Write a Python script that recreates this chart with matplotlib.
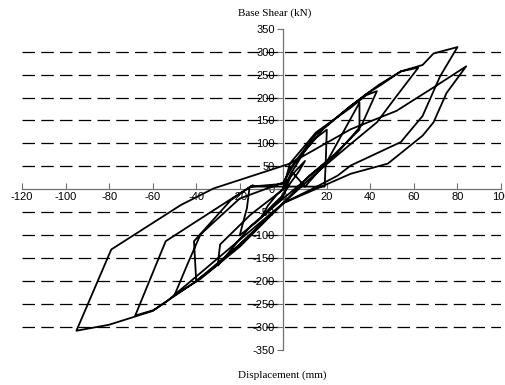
import numpy as np
import matplotlib
matplotlib.use("Agg")
from matplotlib import pyplot as plt

plt.rcParams['axes.unicode_minus'] = False

# hysteresis path, in test order
disp = [0,
        3, 6, 10, 7, 3, 0, -5, -10, -7, -3, 0,
        4, 10, 15, 20, 19.5, 19, 10, -15, -15.5, -16.7, -20, -12, -4, 0, 4, 10,
        20, 27, 35, 35, 23, 10, 0, -15, -30, -29.7, -29, -15, 0,
        3, 15, 31, 38, 43, 36, 25, 12, 0, -20, -33, -40, -41, -24, -15, 0,
        3, 15, 29, 38, 45, 54, 62, 52, 43, 30, 15, 0, -20, -38, -50, -44, -38, -20, 0,
        5, 18, 31, 44, 54, 64, 69, 80, 72, 64, 54, 31, 25, 15, 0, -20, -40, -60, -80, -95,
        -79, -47, -32, 3, 31, 52, 70, 84, 75, 69, 64, 48, 31, 19, 0, -30, -53, -59.5, -68,
        -54, -40, -20, -14]
shear = [0,
         25, 42, 62, 38, 12, -12, -35, -60, -35, -12, 2,
         38, 85, 112, 130, 60, 6, 6, 6, 4, -41, -100, -70, -35, -15, 38, 6,
         60, 120, 189, 130, 74, 20, -20, -80, -166, -148, -120, -55, 0,
         56, 124, 178, 205, 214, 140, 80, 30, -30, -120, -175, -199, -113, -23, 6, 12,
         45, 120, 174, 207, 228, 257, 265, 203, 146, 95, 35, -30, -125, -195, -231, -163, -98, -20, 15,
         55, 130, 182, 228, 257, 271, 296, 310, 246, 160, 103, 52, 30, 5, -30, -120, -200, -265, -295, -308,
         -131, -34, 2, 56, 131, 171, 225, 268, 210, 146, 117, 56, 34, 9, -30, -150, -242, -263, -275,
         -113, -70, -9, 9]

x_ticks = np.arange(-120, 101, 20)
y_ticks = np.arange(-350, 351, 50)
grid_levels = [-300, -250, -200, -150, -100, -50, 50, 100, 150, 200, 250, 300]

fig = plt.figure(figsize=(5.05, 3.85), dpi=100)
ax = fig.add_axes([22/505, 1-350/385, (501-22)/505, (350-28.7)/385])

for g in grid_levels:
    ax.axhline(g, color='black', lw=0.9, dashes=(10, 5), zorder=1)

ax.plot(disp, shear, color='black', lw=1.3, zorder=3)

ax.set_xlim(-120, 100)
ax.set_ylim(-350, 350)
ax.spines['left'].set_position(('data', 0))
ax.spines['bottom'].set_position(('data', 0))
ax.spines['top'].set_visible(False)
ax.spines['right'].set_visible(False)
for s in ('left', 'bottom'):
    ax.spines[s].set_color('#707070')
    ax.spines[s].set_linewidth(0.9)

ax.set_xticks(x_ticks)
ax.set_yticks(y_ticks)
ax.tick_params(axis='x', direction='in', length=4, color='#707070', pad=2)
ax.tick_params(axis='y', direction='out', length=4, color='#707070', pad=2)
for lab in ax.get_xticklabels() + ax.get_yticklabels():
    lab.set_fontfamily('Liberation Sans')
    lab.set_fontsize(8)

fig.text(275/505, 1-13/385, 'Base Shear (kN)', ha='center', va='center',
         family='Liberation Serif', fontsize=8)
fig.text(282/505, 1-375/385, 'Displacement (mm)', ha='center', va='center',
         family='Liberation Serif', fontsize=8)

fig.savefig('out.png', dpi=100)
